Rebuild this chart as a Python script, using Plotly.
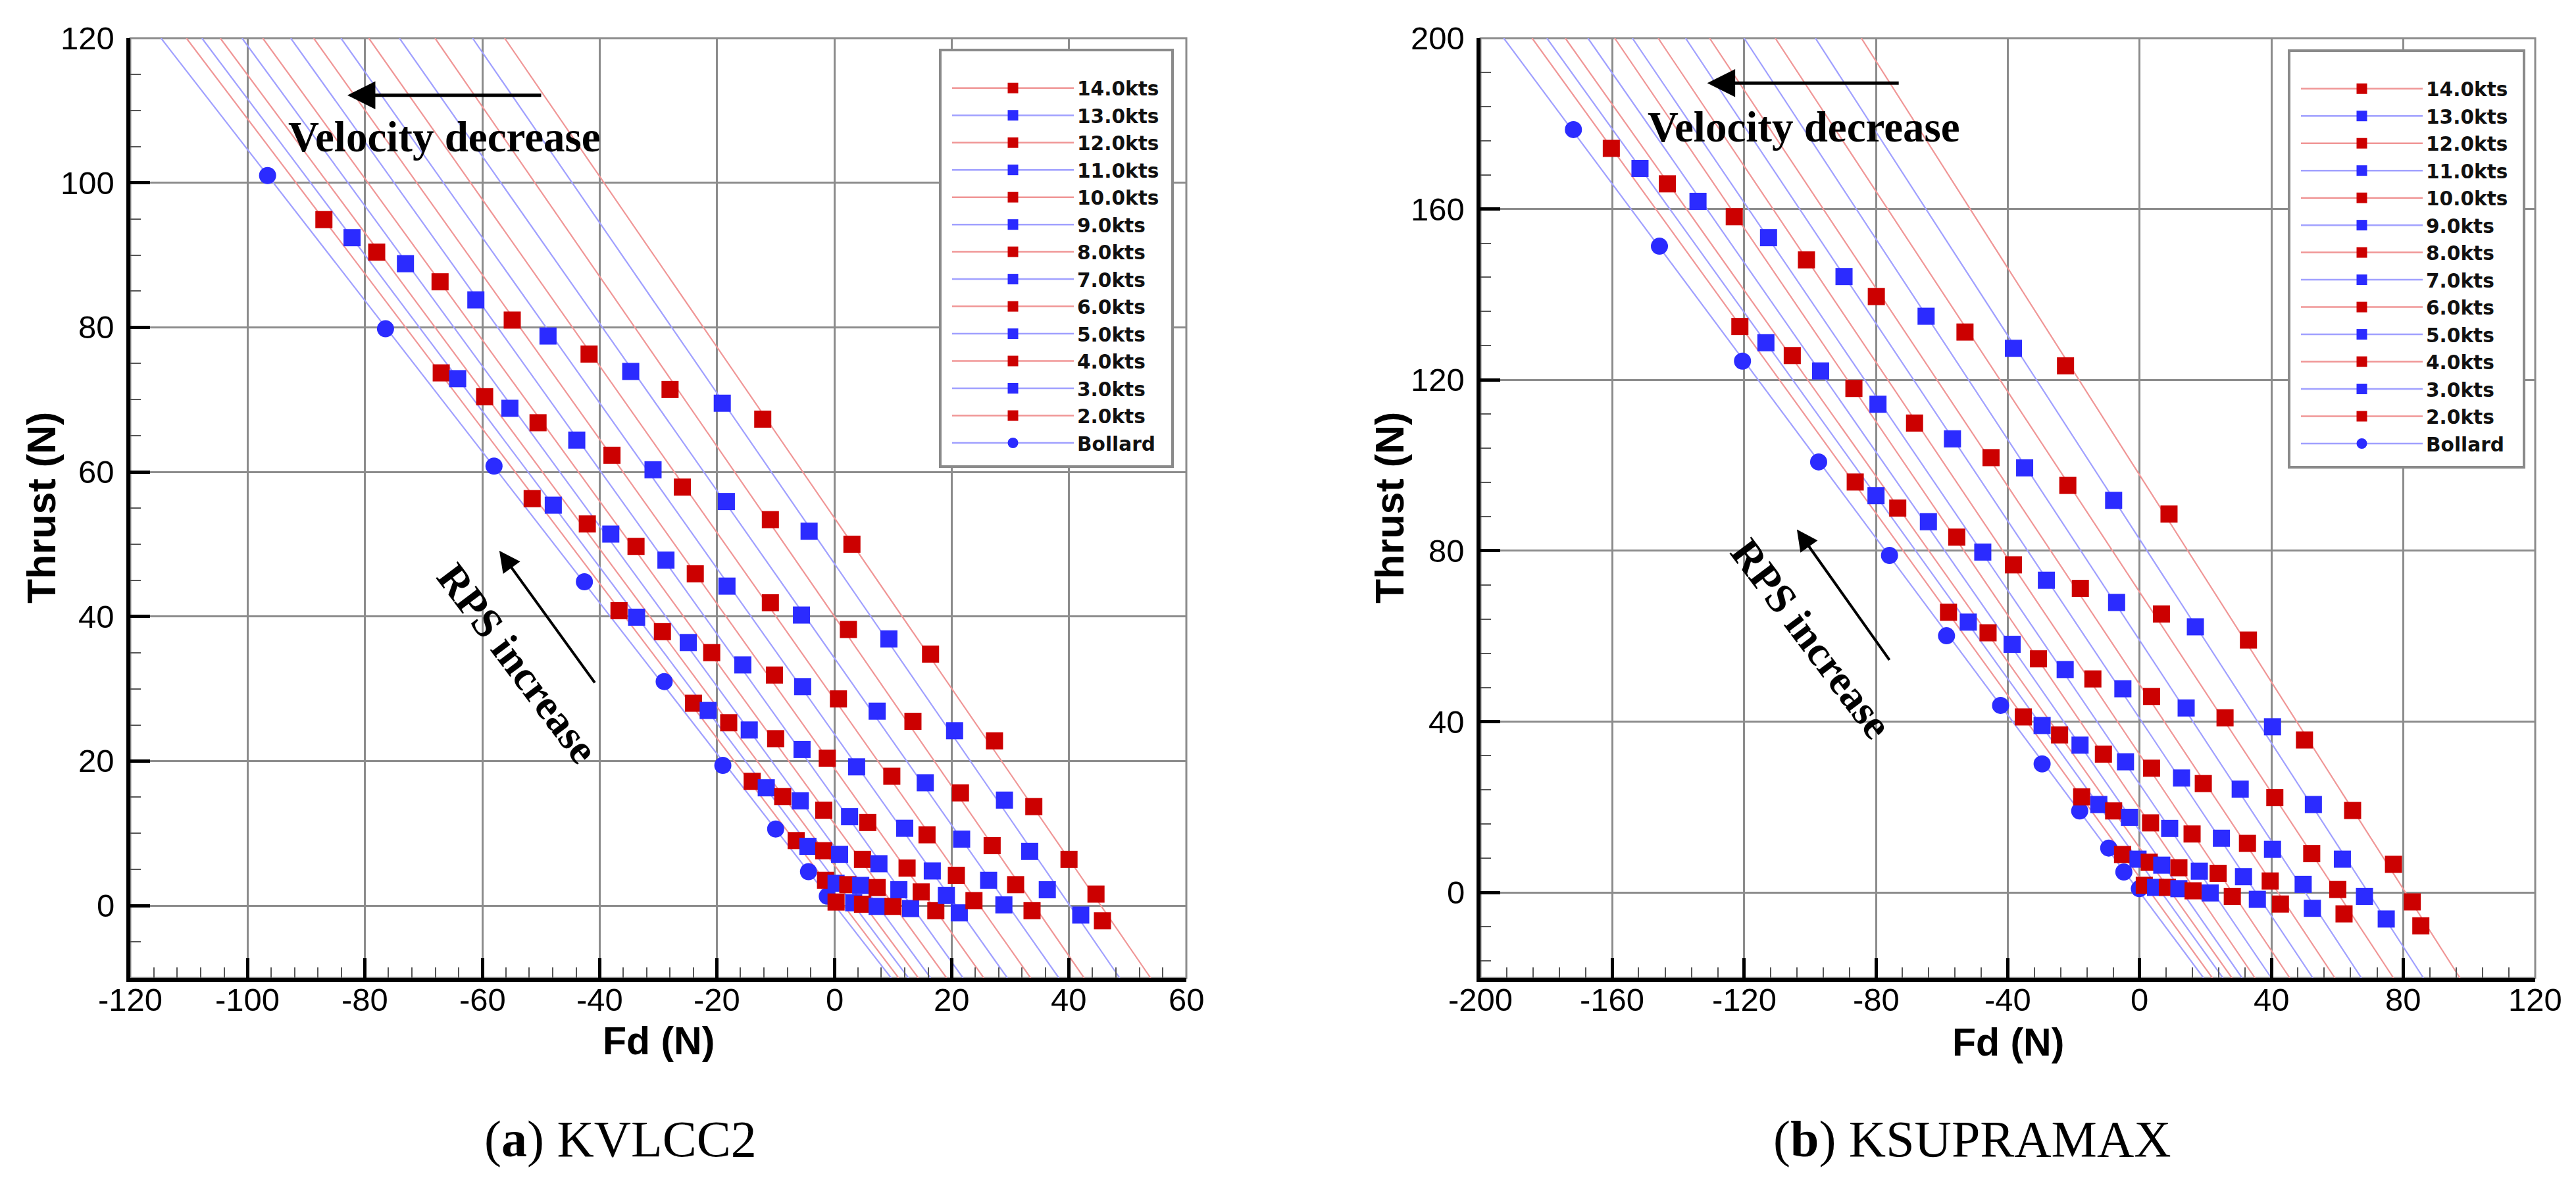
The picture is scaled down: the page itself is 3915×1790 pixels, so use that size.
import numpy as np
import plotly.graph_objects as go

# ===== data: Fd (N) and Thrust (N), one point per RPS =====
# --- (a) KVLCC2 ---
kv_fd_bollard = [-96.6, -76.5, -58.0, -42.6, -29.0, -19.0, -10.0, -4.4, -1.2]
kv_t_bollard = [101.0, 79.8, 60.8, 44.8, 31.0, 19.4, 10.6, 4.7, 1.3]
kv_fd_02 = [-87.0, -67.0, -51.5, -36.7, -24.0, -14.0, -6.5, -1.5, 0.3]
kv_t_02 = [94.9, 73.7, 56.3, 40.8, 28.0, 17.2, 9.0, 3.5, 0.5]
kv_fd_03 = [-82.2, -64.2, -47.9, -33.7, -21.5, -11.6, -4.5, 0.3, 3.3]
kv_t_03 = [92.4, 72.9, 55.4, 39.9, 27.0, 16.3, 8.2, 3.1, 0.4]
kv_fd_04 = [-78.0, -59.6, -42.1, -29.3, -18.0, -8.8, -1.8, 2.3, 4.8]
kv_t_04 = [90.4, 70.4, 52.8, 37.9, 25.3, 15.1, 7.6, 2.9, 0.2]
kv_fd_05 = [-73.1, -55.3, -38.1, -24.9, -14.5, -5.8, 0.9, 4.5, 7.3]
kv_t_05 = [88.8, 68.8, 51.4, 36.4, 24.3, 14.5, 7.1, 2.8, -0.1]
kv_fd_06 = [-67.2, -50.5, -33.8, -20.9, -10.0, -1.8, 4.8, 7.3, 10.0]
kv_t_06 = [86.3, 66.8, 49.7, 35.0, 23.1, 13.2, 6.4, 2.5, -0.1]
kv_fd_07 = [-61.1, -43.9, -28.7, -15.6, -5.5, 2.6, 7.6, 11.0, 13.0]
kv_t_07 = [83.8, 64.4, 47.8, 33.3, 21.6, 12.3, 5.8, 2.2, -0.4]
kv_fd_08 = [-54.9, -37.9, -23.7, -10.2, -1.2, 5.7, 12.4, 14.8, 17.3]
kv_t_08 = [81.0, 62.3, 45.9, 31.9, 20.4, 11.5, 5.2, 1.9, -0.7]
kv_fd_09 = [-48.8, -30.9, -18.3, -5.4, 3.8, 12.0, 16.7, 19.1, 21.3]
kv_t_09 = [78.8, 60.3, 44.2, 30.3, 19.2, 10.7, 4.8, 1.4, -1.0]
kv_fd_10 = [-41.8, -25.9, -10.9, 0.7, 9.8, 15.8, 20.8, 23.8]
kv_t_10 = [76.3, 57.9, 41.9, 28.6, 17.9, 9.8, 4.2, 0.7]
kv_fd_11 = [-34.7, -18.4, -5.6, 7.3, 15.5, 21.7, 26.3, 28.9]
kv_t_11 = [73.9, 55.9, 40.2, 26.9, 17.0, 9.2, 3.5, 0.1]
kv_fd_12 = [-28.0, -10.9, 2.4, 13.4, 21.5, 26.9, 30.9, 33.7]
kv_t_12 = [71.4, 53.4, 38.2, 25.5, 15.6, 8.3, 2.9, -0.7]
kv_fd_13 = [-19.1, -4.3, 9.3, 20.5, 29.0, 33.3, 36.3, 42.0]
kv_t_13 = [69.5, 51.8, 36.9, 24.2, 14.6, 7.5, 2.2, -1.3]
kv_fd_14 = [-12.2, 3.0, 16.4, 27.3, 34.0, 40.0, 44.6, 45.7]
kv_t_14 = [67.3, 50.0, 34.8, 22.8, 13.7, 6.4, 1.6, -2.1]

# --- (b) KSUPRAMAX ---
ks_fd_bollard = [-171.8, -145.7, -120.5, -97.4, -75.9, -58.6, -42.2, -29.6, -18.2, -9.4, -4.8, -0.1]
ks_t_bollard = [178.6, 151.3, 124.4, 100.8, 78.9, 60.1, 43.8, 30.1, 19.1, 10.4, 4.8, 0.9]
ks_fd_02 = [-160.3, -121.3, -86.3, -58.0, -35.3, -17.6, -5.2, 1.4]
ks_t_02 = [174.2, 132.5, 96.1, 65.6, 41.1, 22.4, 8.9, 1.7]
ks_fd_03 = [-151.6, -113.4, -80.0, -52.0, -29.6, -12.4, -0.5, 4.8]
ks_t_03 = [169.5, 128.7, 92.9, 63.3, 39.1, 20.6, 7.8, 1.2]
ks_fd_04 = [-143.3, -105.4, -73.4, -46.0, -24.3, -7.9, 2.9, 8.4]
ks_t_04 = [165.9, 125.7, 90.0, 60.8, 36.9, 19.1, 7.1, 1.2]
ks_fd_05 = [-134.0, -96.8, -64.1, -38.7, -18.1, -3.1, 6.7, 11.9]
ks_t_05 = [161.8, 122.1, 86.8, 58.1, 34.5, 17.6, 6.4, 0.9]
ks_fd_06 = [-123.0, -86.7, -55.5, -30.7, -11.0, 3.3, 11.9, 16.2]
ks_t_06 = [158.2, 118.0, 83.2, 54.7, 32.4, 16.3, 5.8, 0.4]
ks_fd_07 = [-112.6, -79.4, -47.6, -22.6, -4.3, 9.1, 18.1, 21.4]
ks_t_07 = [153.3, 114.3, 79.7, 52.2, 30.6, 15.0, 5.0, -0.1]
ks_fd_08 = [-101.1, -68.3, -38.3, -14.2, 3.6, 15.9, 23.8, 28.1]
ks_t_08 = [148.1, 109.9, 76.7, 50.0, 29.1, 13.7, 4.5, -0.9]
ks_fd_09 = [-89.7, -56.8, -28.3, -5.1, 12.7, 24.8, 31.5, 35.7]
ks_t_09 = [144.2, 106.2, 73.1, 47.7, 26.8, 12.7, 3.7, -1.6]
ks_fd_10 = [-79.9, -45.1, -18.0, 3.6, 19.3, 32.7, 39.6, 42.7]
ks_t_10 = [139.5, 101.8, 71.2, 45.9, 25.5, 11.5, 2.7, -2.7]
ks_fd_11 = [-64.8, -34.9, -7.0, 14.1, 30.5, 40.3, 49.6, 52.4]
ks_t_11 = [134.9, 99.4, 67.9, 43.2, 24.2, 10.1, 1.9, -3.7]
ks_fd_12 = [-53.0, -21.8, 6.6, 25.9, 41.0, 52.2, 60.1, 62.0]
ks_t_12 = [131.2, 95.3, 65.2, 40.9, 22.2, 9.1, 0.7, -5.0]
ks_fd_13 = [-38.3, -7.9, 16.9, 40.3, 52.7, 61.5, 68.2, 74.8]
ks_t_13 = [127.4, 91.8, 62.2, 38.8, 20.6, 7.8, -0.9, -6.2]
ks_fd_14 = [-22.5, 8.9, 33.0, 50.0, 64.6, 77.0, 82.7, 85.3]
ks_t_14 = [123.3, 88.6, 59.1, 35.7, 19.2, 6.6, -2.2, -7.8]

names = ['Bollard', '2.0kts', '3.0kts', '4.0kts', '5.0kts', '6.0kts', '7.0kts',
         '8.0kts', '9.0kts', '10.0kts', '11.0kts', '12.0kts', '13.0kts', '14.0kts']

# tick labels as printed (plain hyphen minus)
kv_x_ticks = ['-120', '-100', '-80', '-60', '-40', '-20', '0', '20', '40', '60']
kv_y_ticks = ['0', '20', '40', '60', '80', '100', '120']
ks_x_ticks = ['-200', '-160', '-120', '-80', '-40', '0', '40', '80', '120']
ks_y_ticks = ['0', '40', '80', '120', '160', '200']

kv_series = list(zip(names,
    [kv_fd_bollard, kv_fd_02, kv_fd_03, kv_fd_04, kv_fd_05, kv_fd_06, kv_fd_07,
     kv_fd_08, kv_fd_09, kv_fd_10, kv_fd_11, kv_fd_12, kv_fd_13, kv_fd_14],
    [kv_t_bollard, kv_t_02, kv_t_03, kv_t_04, kv_t_05, kv_t_06, kv_t_07,
     kv_t_08, kv_t_09, kv_t_10, kv_t_11, kv_t_12, kv_t_13, kv_t_14]))
ks_series = list(zip(names,
    [ks_fd_bollard, ks_fd_02, ks_fd_03, ks_fd_04, ks_fd_05, ks_fd_06, ks_fd_07,
     ks_fd_08, ks_fd_09, ks_fd_10, ks_fd_11, ks_fd_12, ks_fd_13, ks_fd_14],
    [ks_t_bollard, ks_t_02, ks_t_03, ks_t_04, ks_t_05, ks_t_06, ks_t_07,
     ks_t_08, ks_t_09, ks_t_10, ks_t_11, ks_t_12, ks_t_13, ks_t_14]))

# ===== styling =====
W, H = 3915, 1790
RED, BLUE = '#cc0000', '#2b2bff'
RED_LINE, BLUE_LINE = '#f09696', '#a0a0ff'
GRID = '#8c8c8c'
SANS = 'Liberation Sans, Arial, sans-serif'
SERIF = 'Liberation Serif, Times New Roman, serif'


def px_x(p):
    return p / W


def px_y(p):
    return 1 - p / H


def style(i):
    # bollard: blue circle, even speeds red, odd speeds blue
    if i == 0:
        return BLUE, BLUE_LINE, 'circle'
    return (RED, RED_LINE, 'square') if i % 2 == 1 else (BLUE, BLUE_LINE, 'square')


fig = go.Figure()

panels = [
    dict(series=kv_series, xa='x', ya='y', leg='legend', top=120, bot=-10),
    dict(series=ks_series, xa='x2', ya='y2', leg='legend2', top=200, bot=-20),
]

# straight fitted line of each speed, running over the whole plot
for p in panels:
    for i, (name, fd, t) in enumerate(p['series']):
        col, lcol, sym = style(i)
        b, a = np.polyfit(t, fd, 1)
        fig.add_trace(go.Scatter(
            x=[a + b * p['top'], a + b * p['bot']], y=[p['top'], p['bot']],
            mode='lines', line=dict(color=lcol, width=2.2),
            xaxis=p['xa'], yaxis=p['ya'], showlegend=False, hoverinfo='skip'))

# measured points
for p in panels:
    for i, (name, fd, t) in enumerate(p['series']):
        col, lcol, sym = style(i)
        fig.add_trace(go.Scatter(
            x=fd, y=t, mode='markers', name=name,
            marker=dict(symbol=sym, size=26, color=col, line=dict(width=0)),
            xaxis=p['xa'], yaxis=p['ya'], showlegend=False))

# legend entries (14.0kts at the top)
for p in panels:
    for i in range(len(p['series']) - 1, -1, -1):
        name = p['series'][i][0]
        col, lcol, sym = style(i)
        fig.add_trace(go.Scatter(
            x=[None], y=[None], mode='lines+markers', name=name,
            line=dict(color=lcol, width=2.5),
            marker=dict(symbol=sym, size=16, color=col, line=dict(width=0)),
            xaxis=p['xa'], yaxis=p['ya'], legend=p['leg']))


def axis(domain, rng, labels, minor_dtick, anchor):
    # tick labels are written as annotations below, so the spacing from the axis is exact
    return dict(
        domain=domain, range=rng, anchor=anchor,
        tickmode='array', tickvals=[float(v) for v in labels],
        showticklabels=False,
        showgrid=True, gridcolor=GRID, gridwidth=3, zeroline=False,
        showline=True, linecolor='black', linewidth=6,
        ticks='inside', ticklen=30, tickwidth=5, tickcolor='black',
        minor=dict(dtick=minor_dtick, tick0=0, ticks='inside', ticklen=16,
                   tickwidth=2, tickcolor='#555555', showgrid=False),
        fixedrange=True)


y_dom = [px_y(1478), px_y(50)]
left_dom = [px_x(190), px_x(1795)]
right_dom = [px_x(2242), px_x(3845)]

legend_common = dict(
    xanchor='left', yanchor='top', bgcolor='rgba(0,0,0,0)', borderwidth=0,
    font=dict(family='DejaVu Sans, sans-serif', size=29.6, color='#111111', weight='bold'),
    itemwidth=185, tracegroupgap=0, traceorder='normal')

shapes = []
for xr, yr in [('x', 'y'), ('x2', 'y2')]:
    shapes.append(dict(type='rect', xref=xr + ' domain', yref=yr + ' domain',
                       x0=0, x1=1, y0=0, y1=1, line=dict(color=GRID, width=3),
                       layer='below'))
# legend frames
for x0, x1, y0, y1 in [(1421, 1774, 68, 701), (3471, 3828, 69, 702)]:
    shapes.append(dict(type='rect', xref='paper', yref='paper',
                       x0=px_x(x0), x1=px_x(x1), y0=px_y(y1), y1=px_y(y0),
                       fillcolor='white', line=dict(color='#8a8a8a', width=4),
                       layer='above'))

annotations = []


def txt(text, x, y, xref, yref, size, family, angle=0, xanchor='center'):
    annotations.append(dict(text=text, x=x, y=y, xref=xref, yref=yref,
                            showarrow=False, xanchor=xanchor, yanchor='middle',
                            textangle=angle,
                            font=dict(family=family, size=size, color='black')))


def arrow(xh, yh, xt, yt, xref, yref, width, size):
    annotations.append(dict(text='', x=xh, y=yh, ax=xt, ay=yt, xref=xref, yref=yref,
                            axref=xref, ayref=yref, showarrow=True, arrowhead=2,
                            arrowsize=size, arrowwidth=width, arrowcolor='black'))


# tick labels
for lab in kv_x_ticks:
    txt(lab, float(lab), px_y(1511), 'x', 'paper', 49, SANS)
for lab in ks_x_ticks:
    txt(lab, float(lab), px_y(1511), 'x2', 'paper', 49, SANS)
for lab in kv_y_ticks:
    txt(lab, px_x(168), float(lab), 'paper', 'y', 49, SANS, xanchor='right')
for lab in ks_y_ticks:
    txt(lab, px_x(2220), float(lab), 'paper', 'y2', 49, SANS, xanchor='right')

# axis titles
txt('<b>Thrust (N)</b>', px_x(55), sum(y_dom) / 2, 'paper', 'paper', 61, SANS, -90)
txt('<b>Thrust (N)</b>', px_x(2104), sum(y_dom) / 2, 'paper', 'paper', 61, SANS, -90)
txt('<b>Fd (N)</b>', sum(left_dom) / 2, px_y(1574), 'paper', 'paper', 59, SANS)
txt('<b>Fd (N)</b>', sum(right_dom) / 2, px_y(1576), 'paper', 'paper', 59, SANS)

# captions
txt('(<b>a</b>) KVLCC2', px_x(935), px_y(1722), 'paper', 'paper', 78, SERIF)
txt('(<b>b</b>) KSUPRAMAX', px_x(2989), px_y(1722), 'paper', 'paper', 78, SERIF)

# in-plot notes
txt('<b>Velocity decrease</b>', -66.4, 106.3, 'x', 'y', 65, SERIF)
arrow(-83.0, 112.1, -49.8, 112.1, 'x', 'y', 5, 1.7)
txt('<b>RPS increase</b>', -53.9, 33.5, 'x', 'y', 64, SERIF, 53)
arrow(-57.1, 49.1, -40.7, 30.7, 'x', 'y', 4, 1.6)

txt('<b>Velocity decrease</b>', -101.8, 179.2, 'x2', 'y2', 65, SERIF)
arrow(-131.2, 189.5, -72.8, 189.5, 'x2', 'y2', 5, 1.7)
txt('<b>RPS increase</b>', -99.6, 59.4, 'x2', 'y2', 64, SERIF, 53)
arrow(-104.0, 85.0, -75.7, 54.2, 'x2', 'y2', 4, 1.6)

fig.update_layout(
    width=W, height=H, autosize=False,
    margin=dict(l=0, r=0, t=0, b=0),
    paper_bgcolor='white', plot_bgcolor='white',
    xaxis=axis(left_dom, [-120, 60], kv_x_ticks, 4, 'y'),
    yaxis=axis(y_dom, [-10, 120], kv_y_ticks, 5, 'x'),
    xaxis2=axis(right_dom, [-200, 120], ks_x_ticks, 8, 'y2'),
    yaxis2=axis(y_dom, [-20, 200], ks_y_ticks, 8, 'x2'),
    legend=dict(x=px_x(1434), y=px_y(100), **legend_common),
    legend2=dict(x=px_x(3484), y=px_y(101), **legend_common),
    shapes=shapes,
    annotations=annotations,
    hovermode=False,
)

fig.write_html("out.html")
